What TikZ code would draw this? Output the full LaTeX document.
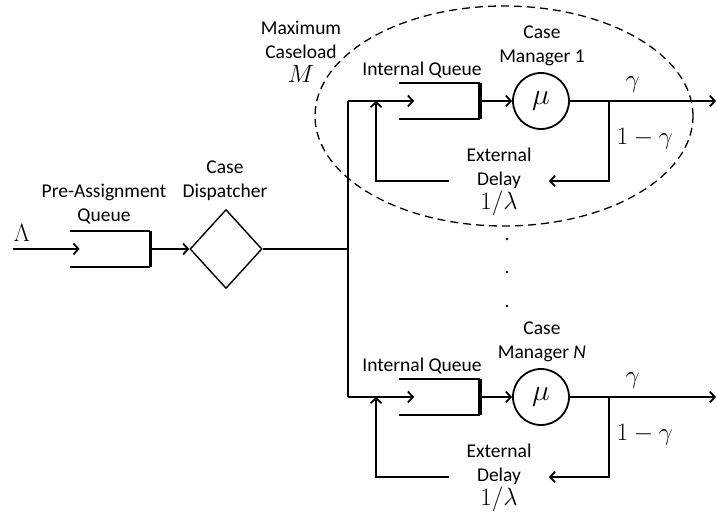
\RequirePackage{fix-cm}
\documentclass[tikz,border=0pt]{standalone}
\usepackage{fontspec}
\setmainfont{Carlito}
\usepackage{amsmath}
\usetikzlibrary{shapes.geometric,arrows.meta,positioning,calc}

\newcommand{\bigmath}[2][25]{{\fontsize{#1}{24}\selectfont$#2$}}

\begin{document}
\begin{tikzpicture}[x=1pt, y=-1pt, line width=1.8pt,
  >={Straight Barb[length=5pt,width=11pt]},
  every node/.style={font=\fontsize{19.5}{24}\selectfont, align=center, inner sep=0pt},
  queue/.style={minimum width=79pt, minimum height=34pt},
  qwall/.style={line width=2.6pt},
  server/.style={draw, circle, minimum size=56pt},
  dispatch/.style={draw, diamond, line width=1.4pt, minimum width=72pt, minimum height=79pt},
  delay/.style={minimum width=98pt},
  caseload/.style={draw, dashed, ellipse, line width=1.3pt, dash pattern=on 8pt off 5pt,
                   minimum width=378pt, minimum height=220pt}]

  \useasboundingbox (0,0) rectangle (717,519);

  % arrivals, pre-assignment queue and dispatcher
  \coordinate (src) at (13,249);
  \node (lam) at (22,233) {\bigmath{\Lambda}};
  \node[queue] (pq) at (110,249) {};
  \node (pqlbl) at (104,204) {Pre-Assignment\\Queue};
  \node[dispatch] (disp) at (226,249) {};
  \node (displbl) at (225,181) {Case\\Dispatcher};

  \draw[->] (src) -- ([xshift=10pt]pq.west);
  \draw[qwall] (pq.north west) -- (pq.north east);
  \draw[qwall] (pq.south west) -- (pq.south east);
  \draw[line width=3.4pt] (pq.north east) -- (pq.south east);
  \draw[->] (pq.east) -- (disp.west);

  % bus to the case managers
  \coordinate (bus0) at (348,249);
  \coordinate (bus1) at (348,101);
  \coordinate (busN) at (348,397);
  \draw (disp.east) -- (bus0);
  \draw (bus1) -- (busN);

  % one branch per case manager
  \foreach \k/\y/\mgr in {1/101/1, N/397/\textit{N}} {
    \node[queue] (iq\k) at (439.5,\y) {};
    \node[server] (cm\k) at (541,\y) {\bigmath[30]{\mu}};
    \coordinate (br\k) at (609,\y);
    \coordinate (out\k) at (716,\y);
    \node[delay] (ed\k) at (499,\y+81) {External\\Delay\\\bigmath{1/\lambda}};
    \node (iql\k) at (422,\y-31) {Internal Queue};
    \node (cml\k) at (542,\y-55) {Case\\Manager \mgr};
    \node (gam\k) at (633,\y-16) {\bigmath{\gamma}};
    \node (ret\k) at (645,\y+38) {\bigmath{1-\gamma}};

    \draw[->] (bus\k) -- ([xshift=15pt]iq\k.west);
    \draw[qwall] (iq\k.north west) -- (iq\k.north east);
    \draw[qwall] (iq\k.south west) -- (iq\k.south east);
    \draw[line width=3.4pt] (iq\k.north east) -- (iq\k.south east);
    \draw[->] (iq\k.east) -- (cm\k.west);
    \draw[->] (cm\k.east) -- (out\k);
    \draw[->] (br\k) |- ([yshift=1pt]ed\k.east);
    \draw[->] ([yshift=1pt]ed\k.west) -| ([xshift=-23pt]iq\k.west);
  }

  % caseload limit of one manager
  \node[caseload] (cap) at (504,116) {};
  \node (caplbl) at (301,52) {Maximum\\Caseload\\\bigmath{M}};

  \foreach \d in {239,272,306}
    \fill (507,\d) circle (1.3pt);
\end{tikzpicture}
\end{document}
